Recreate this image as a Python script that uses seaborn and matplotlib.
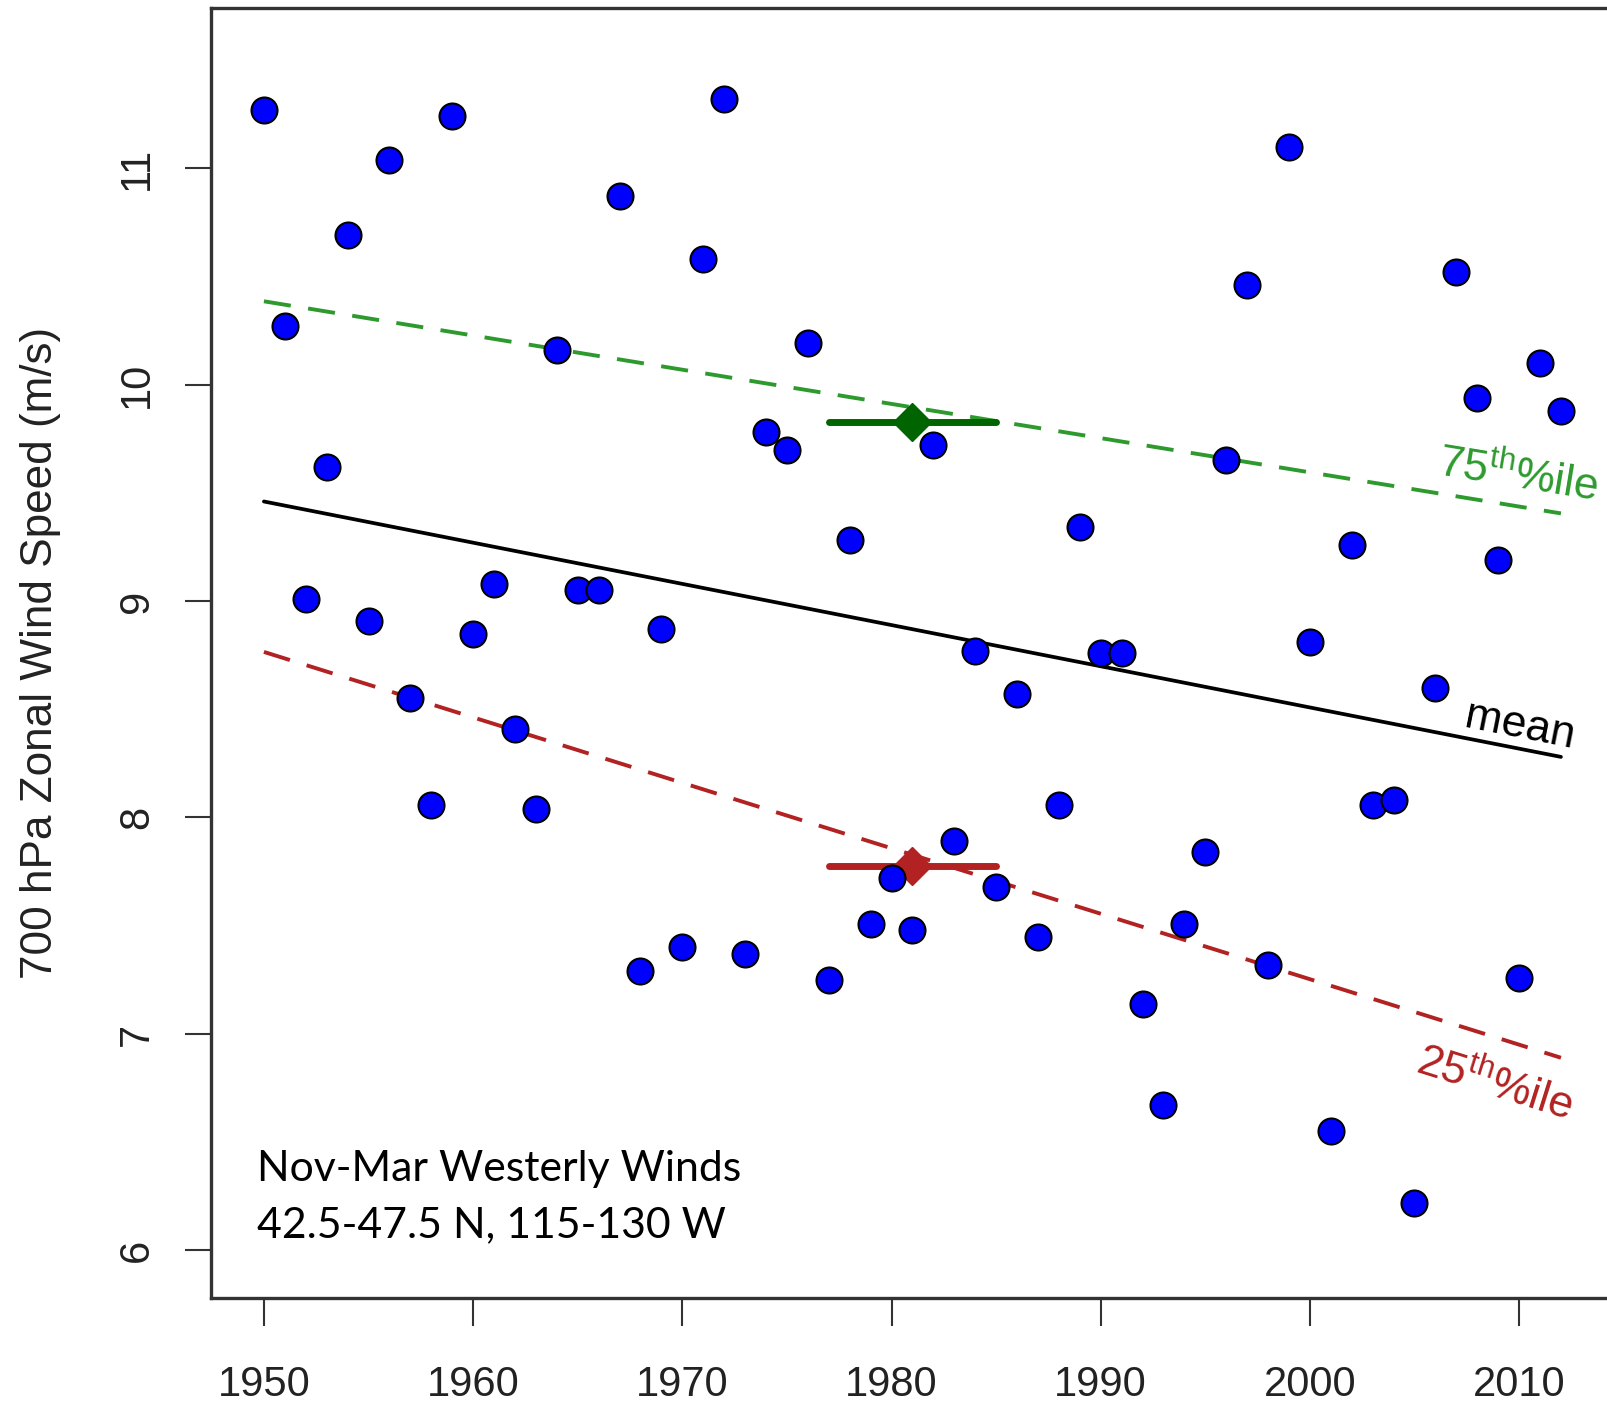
import matplotlib
matplotlib.use("Agg")
import matplotlib.pyplot as plt
import seaborn as sns
import pandas as pd

# ---------------- data ----------------
years = list(range(1950, 2013))
wind = [11.27, 10.27, 9.01, 9.62, 10.69, 8.91, 11.04, 8.55, 8.06, 11.24,
        8.85, 9.08, 8.41, 8.04, 10.16, 9.05, 9.05, 10.87, 7.29, 8.87,
        7.40, 10.58, 11.32, 7.37, 9.78, 9.70, 10.19, 7.25, 9.28, 7.51,
        7.72, 7.48, 9.72, 7.89, 8.77, 7.68, 8.57, 7.45, 8.06, 9.34,
        8.76, 8.76, 7.14, 6.67, 7.51, 7.84, 9.65, 10.46, 7.32, 11.10,
        8.81, 6.55, 9.26, 8.06, 8.08, 6.22, 8.60, 10.52, 9.94, 9.19,
        7.26, 10.10, 9.88]

trend_years = [1950, 2012]
mean_trend = [9.46, 8.28]
q75_trend = [10.385, 9.405]
q25_trend = [8.765, 6.89]

period_years = [1977, 1985]
period_center = 1981
q75_period = 9.825
q25_period = 7.775

x_ticks = [1950, 1960, 1970, 1980, 1990, 2000, 2010]
y_ticks = [6, 7, 8, 9, 10, 11]

# ---------------- style ----------------
sns.set_theme(style="white")
plt.rcParams["font.family"] = ["Liberation Sans", "DejaVu Sans"]
plt.rcParams["mathtext.fontset"] = "custom"
plt.rcParams["mathtext.rm"] = "Liberation Sans"
plt.rcParams["mathtext.it"] = "Liberation Sans"

fig = plt.figure(figsize=(16.08, 14.07), dpi=100)
ax = fig.add_axes([211 / 1608, 109 / 1407, 1 - 211 / 1608, 1290 / 1407])

df = pd.DataFrame({"year": years, "wind": wind})
tr = pd.DataFrame({"year": trend_years, "mean": mean_trend,
                   "q75": q75_trend, "q25": q25_trend})

green_line = "#2e9a2e"
green_dark = "#006400"
red = "#b22222"

sns.lineplot(data=tr, x="year", y="mean", ax=ax, color="black", lw=2.7)
sns.lineplot(data=tr, x="year", y="q75", ax=ax, color=green_line, lw=2.8)
ax.lines[-1].set_dashes([7, 4.5])
sns.lineplot(data=tr, x="year", y="q25", ax=ax, color=red, lw=2.8)
ax.lines[-1].set_dashes([7, 4.5])

# period bars with diamonds
ax.plot(period_years, [q75_period, q75_period], color=green_dark, lw=5,
        solid_capstyle="round", zorder=3)
ax.plot([period_center], [q75_period], marker="D", ms=19, color=green_dark,
        zorder=3)
ax.plot(period_years, [q25_period, q25_period], color=red, lw=5,
        solid_capstyle="round", zorder=3)
ax.plot([period_center], [q25_period], marker="D", ms=19, color=red, zorder=3)

sns.scatterplot(data=df, x="year", y="wind", ax=ax, s=350, color="#0000ff",
                edgecolor="black", linewidth=1.5, zorder=4)

# line labels
ax.text(2009.94, 9.58, r"75$^{\mathrm{th}}$%ile", color=green_line,
        fontsize=32, rotation=-9.3, ha="center", va="center",
        rotation_mode="anchor")
ax.text(2010.04, 8.42, "mean", color="black", fontsize=32, rotation=-11.2,
        ha="center", va="center", rotation_mode="anchor")
ax.text(2008.84, 6.77, r"25$^{\mathrm{th}}$%ile", color=red,
        fontsize=32, rotation=-17.4, ha="center", va="center",
        rotation_mode="anchor")

# annotation
ax.text(1949.65, 6.322, "Nov-Mar Westerly Winds", fontsize=30.8,
        family=["Lato", "DejaVu Sans"], color="black", va="baseline")
ax.text(1949.65, 6.059, "42.5-47.5 N, 115-130 W", fontsize=30.8,
        family=["Lato", "DejaVu Sans"], color="black", va="baseline")

# axes
ax.set_xlim(1947.47, 2014.25)
ax.set_ylim(5.78, 11.74)
ax.set_xticks(x_ticks)
ax.set_yticks(y_ticks)
ax.set_xlabel("")
ax.set_ylabel("700 hPa Zonal Wind Speed (m/s)", fontsize=31.8,
              color="#222222", labelpad=40)
for lab in ax.get_yticklabels():
    lab.set_rotation(90)
    lab.set_va("center")
ax.tick_params(axis="x", length=20, width=1.5, color="#333333",
               labelsize=30, labelcolor="#222222", pad=28, bottom=True)
ax.tick_params(axis="y", length=19, width=1.5, color="#333333",
               labelsize=30, labelcolor="#222222", pad=20, left=True)
for side in ["left", "bottom", "top"]:
    ax.spines[side].set_visible(True)
    ax.spines[side].set_linewidth(2.4)
    ax.spines[side].set_color("#333333")
ax.spines["right"].set_visible(False)
if ax.get_legend() is not None:
    ax.get_legend().remove()

fig.savefig("out.png", dpi=100)
